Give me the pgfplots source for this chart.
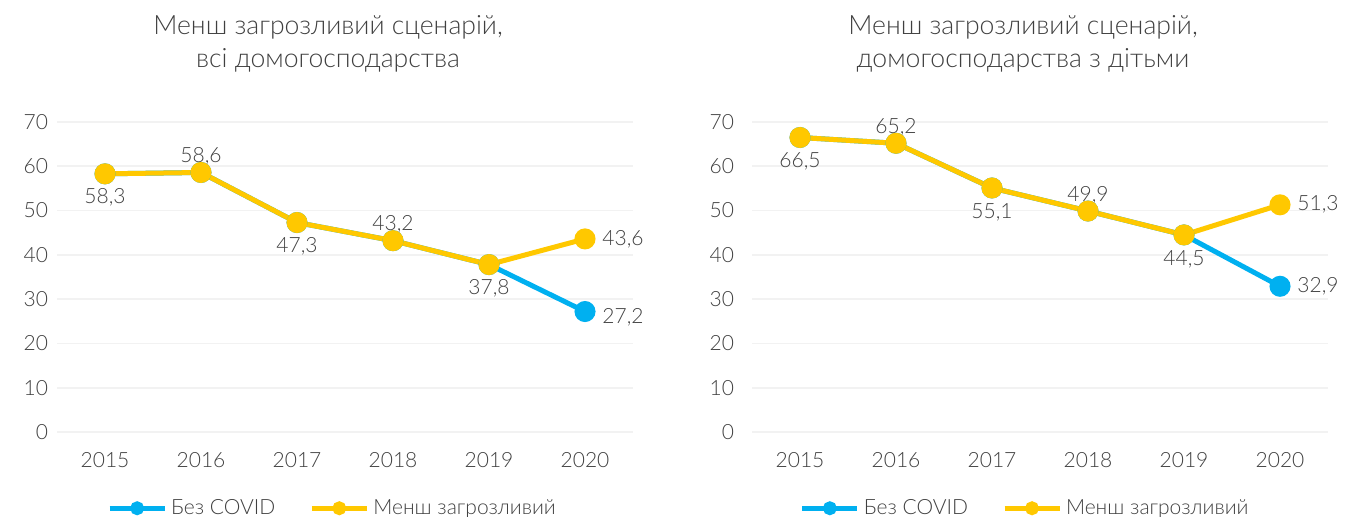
\documentclass[border=0pt]{standalone}
\usepackage{fontspec}
\setmainfont{Lato Light}
\usepackage{pgfplots}
\pgfplotsset{compat=1.18}
\definecolor{cblue}{HTML}{00B0F0}
\definecolor{cyel}{HTML}{FFC800}
\definecolor{ctxt}{HTML}{404040}
\definecolor{cgrid}{HTML}{F2F2F2}
\pgfplotsset{
  myax/.style={
    scale only axis, width=288pt, height=155pt,
    xmin=2014.5, xmax=2020.5, ymin=0, ymax=70,
    xtick={2015,2016,2017,2018,2019,2020},
    xticklabels={2015,2016,2017,2018,2019,2020},
    ytick={0,10,20,30,40,50,60,70},
    yticklabels={0,10,20,30,40,50,60,70},
    ymajorgrids, grid style={cgrid, line width=0.9pt},
    axis line style={draw=none}, major tick length=0pt,
    tick label style={font=\fontsize{10.5}{12}\selectfont, text=ctxt},
    xticklabel style={anchor=center, yshift=-14pt},
    clip=false,
    legend columns=2,
    legend style={draw=none, fill=none, anchor=center,
      font=\fontsize{10.5}{12}\selectfont, text=ctxt,
      cells={inner xsep=1.5pt},
      /tikz/every even column/.append style={column sep=15pt}},
    legend cell align=left,
    legend image code/.code={\draw[##1, mark repeat=2, mark phase=2, mark size=2.2pt] plot coordinates {(0pt,0pt) (13.75pt,0pt) (27.5pt,0pt)};},
  },
  bl/.style={cblue, line width=2.5pt, mark=*, mark size=4pt},
  yl/.style={cyel, line width=2.5pt, mark=*, mark size=4pt},
}
\tikzset{
  lab/.style={font=\fontsize{10.5}{12}\selectfont, text=ctxt, inner sep=0pt},
  ab/.style={lab, yshift=8pt},
  be/.style={lab, yshift=-12pt},
  ri/.style={lab, anchor=west, xshift=8.5pt},
}
\begin{document}
\begin{tikzpicture}
\useasboundingbox (0,0) rectangle (674.5pt,258.5pt);
\node[font=\fontsize{13.3}{16.5}\selectfont, text=ctxt, align=center] at (164pt,236.75pt) {Менш загрозливий сценарій,\\всі домогосподарства};
\node[font=\fontsize{13.3}{16.5}\selectfont, text=ctxt, align=center] at (511.5pt,236.75pt) {Менш загрозливий сценарій,\\домогосподарства з дітьми};
\begin{axis}[myax, at={(28.5pt,42.5pt)}, anchor=south west,
  yticklabel style={xshift=-1pt},
  legend style={at={(0.48,-0.246)}}]
\addplot[bl] coordinates {(2015,58.3) (2016,58.6) (2017,47.3) (2018,43.2) (2019,37.8) (2020,27.2)};
\addplot[yl] coordinates {(2015,58.3) (2016,58.6) (2017,47.3) (2018,43.2) (2019,37.8) (2020,43.6)};
\legend{Без COVID, Менш загрозливий}
\node[be] at (axis cs:2015,58.3) {58,3};
\node[ab] at (axis cs:2016,58.6) {58,6};
\node[be] at (axis cs:2017,47.3) {47,3};
\node[ab] at (axis cs:2018,43.2) {43,2};
\node[be] at (axis cs:2019,37.8) {37,8};
\node[ri] at (axis cs:2020,43.6) {43,6};
\node[ri, yshift=-3pt] at (axis cs:2020,27.2) {27,2};
\end{axis}
\begin{axis}[myax, at={(376pt,42.5pt)}, anchor=south west,
  yticklabel style={xshift=-5.5pt},
  legend style={at={(0.476,-0.246)}}]
\addplot[bl] coordinates {(2015,66.5) (2016,65.2) (2017,55.1) (2018,49.9) (2019,44.5) (2020,32.9)};
\addplot[yl] coordinates {(2015,66.5) (2016,65.2) (2017,55.1) (2018,49.9) (2019,44.5) (2020,51.3)};
\legend{Без COVID, Менш загрозливий}
\node[be] at (axis cs:2015,66.5) {66,5};
\node[ab] at (axis cs:2016,65.2) {65,2};
\node[be] at (axis cs:2017,55.1) {55,1};
\node[ab] at (axis cs:2018,49.9) {49,9};
\node[be] at (axis cs:2019,44.5) {44,5};
\node[ri] at (axis cs:2020,51.3) {51,3};
\node[ri] at (axis cs:2020,32.9) {32,9};
\end{axis}
\end{tikzpicture}
\end{document}
